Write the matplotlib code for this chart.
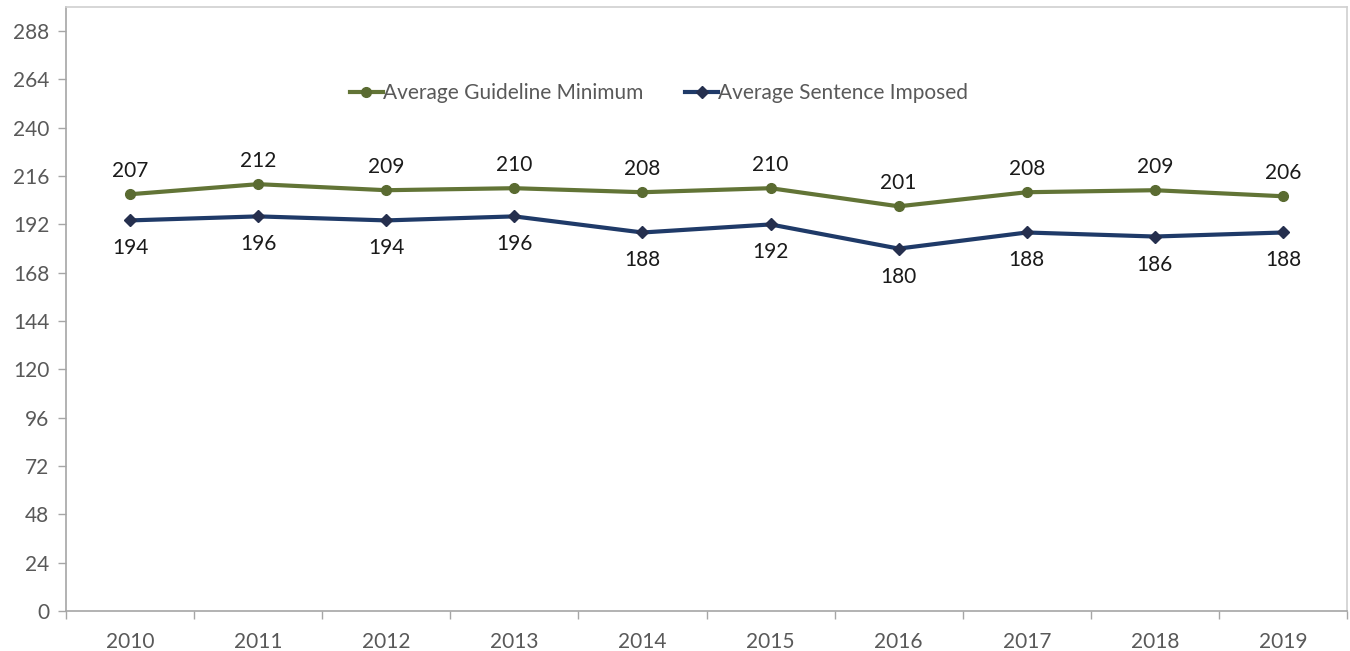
import matplotlib.pyplot as plt
import numpy as np

# === DATA ===
years = ["2010", "2011", "2012", "2013", "2014", "2015", "2016", "2017", "2018", "2019"]
guideline_min = [207, 212, 209, 210, 208, 210, 201, 208, 209, 206]
sentence_imposed = [194, 196, 194, 196, 188, 192, 180, 188, 186, 188]
y_ticks = list(range(0, 289, 24))

GREEN = "#627436"
GREEN_MK = "#5a6b31"
BLUE = "#1f3a68"
BLUE_MK = "#252f4e"
TICK_GRAY = "#595959"

plt.rcParams["font.family"] = ["Lato", "DejaVu Sans"]

fig = plt.figure(figsize=(13.5, 6.51), dpi=100)
ax = fig.add_axes([66 / 1350, 1 - 611 / 651, (1347 - 66) / 1350, (611 - 7) / 651])

x = np.arange(len(years))
ax.plot(x, guideline_min, color=GREEN, lw=3, marker="o", ms=7,
        mfc=GREEN_MK, mec=GREEN_MK, label="Average Guideline Minimum")
ax.plot(x, sentence_imposed, color=BLUE, lw=3, marker="D", ms=6,
        mfc=BLUE_MK, mec=BLUE_MK, label="Average Sentence Imposed")

for xi, v in zip(x, guideline_min):
    ax.annotate(str(v), (xi, v), xytext=(0, 23), textcoords="offset pixels",
                ha="center", va="center", fontsize=15, color="#1a1a1a")
for xi, v in zip(x, sentence_imposed):
    ax.annotate(str(v), (xi, v), xytext=(0, -28), textcoords="offset pixels",
                ha="center", va="center", fontsize=15, color="#1a1a1a")

ax.set_xlim(-0.5, len(years) - 0.5)
ax.set_ylim(0, 300)
ax.set_yticks(y_ticks)
ax.set_yticklabels([str(t) for t in y_ticks])

# category labels centered, tick marks between categories
ax.set_xticks(x)
ax.set_xticklabels(years)
ax.set_xticks(np.arange(-0.5, len(years)), minor=True)
ax.tick_params(axis="x", which="major", length=0, pad=15, labelsize=15, labelcolor=TICK_GRAY)
ax.tick_params(axis="x", which="minor", length=6, color="#a6a6a6", width=1)
ax.tick_params(axis="y", length=6, color="#a6a6a6", width=1, pad=6,
               labelsize=15, labelcolor=TICK_GRAY)

for side in ["left", "bottom"]:
    ax.spines[side].set_color("#a6a6a6")
    ax.spines[side].set_linewidth(1.2)
for side in ["top", "right"]:
    ax.spines[side].set_color("#d0d0d0")
    ax.spines[side].set_linewidth(1.2)

leg = ax.legend(loc="center", bbox_to_anchor=(0.463, 0.857), ncol=2, frameon=False,
                fontsize=15, handlelength=1.6, handletextpad=0.0, columnspacing=2.0)
for t in leg.get_texts():
    t.set_color(TICK_GRAY)

fig.savefig("out.png", dpi=100)
